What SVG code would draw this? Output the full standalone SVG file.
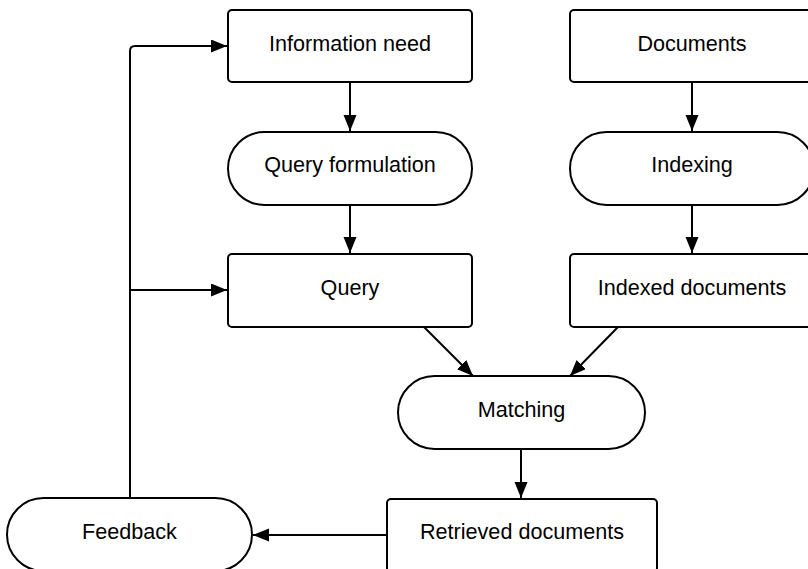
<svg xmlns="http://www.w3.org/2000/svg" width="808" height="569" viewBox="0 0 808 569">
<style>
.n{fill:#fff;stroke:#000;stroke-width:2}
.t{font-family:"Liberation Sans",Arial,sans-serif;font-size:21.6px;fill:#000;text-anchor:middle}
.c{fill:none;stroke:#000;stroke-width:2}
</style>
<defs>
<marker id="a" markerUnits="userSpaceOnUse" markerWidth="17" markerHeight="14" refX="16" refY="6.5" orient="auto">
<path d="M0,0 L16,6.5 L0,13 z" fill="#000"/>
</marker>
</defs>
<rect width="808" height="569" fill="#fff"/>
<g id="connectors">
<path class="c" d="M350,82 V131" marker-end="url(#a)"/>
<path class="c" d="M350,205 V253" marker-end="url(#a)"/>
<path class="c" d="M692,82 V131" marker-end="url(#a)"/>
<path class="c" d="M692,205 V253" marker-end="url(#a)"/>
<path class="c" d="M424,327 L473,376" marker-end="url(#a)"/>
<path class="c" d="M618,327 L570,376" marker-end="url(#a)"/>
<path class="c" d="M521,449 V498" marker-end="url(#a)"/>
<path class="c" d="M387,535 H253" marker-end="url(#a)"/>
<path class="c" d="M130,498 V51 Q130,46 135,46 H227" marker-end="url(#a)"/>
<path class="c" d="M130,290 H227" marker-end="url(#a)"/>
</g>
<g id="information-need"><rect class="n" x="228" y="10" width="244" height="72" rx="4"/><text class="t" x="350" y="51">Information need</text></g>
<g id="documents"><rect class="n" x="570" y="10" width="244" height="72" rx="4"/><text class="t" x="692" y="51">Documents</text></g>
<g id="query-formulation"><rect class="n" x="228" y="132" width="244" height="73" rx="36.5"/><text class="t" x="350" y="172">Query formulation</text></g>
<g id="indexing"><rect class="n" x="570" y="132" width="244" height="73" rx="36.5"/><text class="t" x="692" y="172">Indexing</text></g>
<g id="query"><rect class="n" x="228" y="254" width="244" height="73" rx="4"/><text class="t" x="350" y="294.5">Query</text></g>
<g id="indexed-documents"><rect class="n" x="570" y="254" width="244" height="73" rx="4"/><text class="t" x="692" y="294.5">Indexed documents</text></g>
<g id="matching"><rect class="n" x="398" y="376" width="247" height="73" rx="36.5"/><text class="t" x="521.5" y="417">Matching</text></g>
<g id="retrieved-documents"><rect class="n" x="387" y="499" width="270" height="73" rx="4"/><text class="t" x="522" y="539">Retrieved documents</text></g>
<g id="feedback"><rect class="n" x="7" y="498" width="245" height="73" rx="36.5"/><text class="t" x="129.5" y="539">Feedback</text></g>
</svg>
